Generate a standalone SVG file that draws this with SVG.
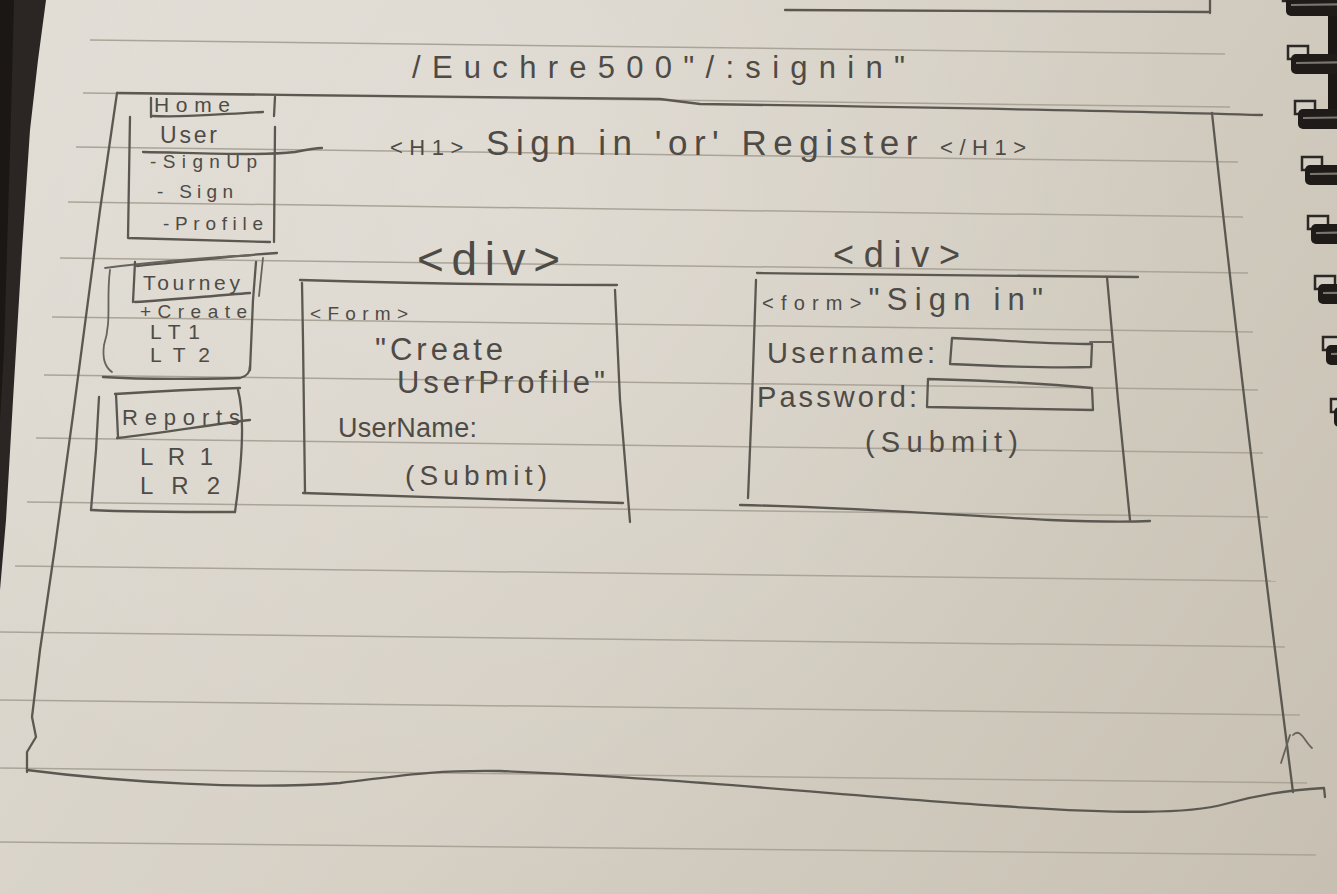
<svg xmlns="http://www.w3.org/2000/svg" width="1337" height="894" viewBox="0 0 1337 894">
  <defs>
    <linearGradient id="paper" x1="0" y1="0" x2="1337" y2="894" gradientUnits="userSpaceOnUse">
      <stop offset="0" stop-color="#e0dcd4"/>
      <stop offset="0.5" stop-color="#d6d0c5"/>
      <stop offset="1" stop-color="#c7c0b2"/>
    </linearGradient>
    <radialGradient id="glow" cx="500" cy="200" r="700" gradientUnits="userSpaceOnUse">
      <stop offset="0" stop-color="#ffffff" stop-opacity="0.18"/>
      <stop offset="1" stop-color="#ffffff" stop-opacity="0"/>
    </radialGradient>
    <g id="ring">
      <rect x="0" y="0" width="20" height="13" fill="#d3cdc3" stroke="#2b2825" stroke-width="2.5"/>
      <rect x="3" y="8" width="72" height="20" rx="5" fill="#1e1b19"/>
      <line x1="8" y1="17" x2="75" y2="16" stroke="#7a756d" stroke-width="2.2"/>
    </g>
  </defs>
  <style>
    .pen { fill: none; stroke: #5b5852; stroke-width: 2.3; stroke-linecap: round; stroke-linejoin: round; }
    .pen2 { fill: none; stroke: #67635d; stroke-width: 1.8; stroke-linecap: round; stroke-linejoin: round; }
    .rule { stroke: #aaa498; stroke-width: 1.5; }
    .t { font-family: "Liberation Sans", Arial, sans-serif; fill: #4e4b46; }
  </style>

  <!-- paper -->
  <rect x="0" y="0" width="1337" height="894" fill="url(#paper)"/>
  <rect x="0" y="0" width="1337" height="894" fill="url(#glow)"/>

  <!-- dark left edge -->
  <polygon points="0,0 46,0 38,60 30,130 22,250 13,400 6,520 0,590" fill="#2b2623"/>
  <polygon points="0,0 14,0 10,150 4,350 0,420" fill="#1a1715"/>

  <!-- ruled lines -->
  <g id="rules" class="rule">
    <line x1="90" y1="40" x2="1225" y2="54"/>
    <line x1="83" y1="93" x2="1230" y2="107"/>
    <line x1="76" y1="147" x2="1238" y2="162"/>
    <line x1="68" y1="202" x2="1243" y2="217"/>
    <line x1="60" y1="258" x2="1248" y2="273"/>
    <line x1="52" y1="317" x2="1253" y2="332"/>
    <line x1="44" y1="375" x2="1258" y2="390"/>
    <line x1="36" y1="438" x2="1263" y2="453"/>
    <line x1="27" y1="502" x2="1268" y2="517"/>
    <line x1="15" y1="566" x2="1276" y2="581"/>
    <line x1="0" y1="632" x2="1285" y2="647"/>
    <line x1="0" y1="700" x2="1300" y2="715"/>
    <line x1="0" y1="768" x2="1307" y2="783"/>
    <line x1="0" y1="842" x2="1316" y2="855"/>
  </g>

  <!-- spiral binding -->
  <g id="spiral">
    <rect x="1328" y="0" width="9" height="112" fill="#1a1715"/>
    <use href="#ring" x="1283" y="-12"/>
    <use href="#ring" x="1288" y="46"/>
    <use href="#ring" x="1295" y="101"/>
    <use href="#ring" x="1302" y="157"/>
    <use href="#ring" x="1308" y="216"/>
    <use href="#ring" x="1315" y="276"/>
    <use href="#ring" x="1323" y="337"/>
    <use href="#ring" x="1331" y="399"/>
  </g>

  <!-- leftover line from previous sketch at top -->
  <g id="top-remnant" class="pen">
    <path d="M785,10 L1210,12"/>
    <path d="M1210,0 L1210,13"/>
  </g>

  <!-- title -->
  <g id="title">
    <text class="t" x="412" y="78" font-size="31" textLength="493" lengthAdjust="spacing">/Euchre500"/:signin"</text>
  </g>

  <!-- page frame -->
  <g id="page-frame">
    <path class="pen" d="M117,93 C300,95 500,97 660,99 L700,104 C900,107 1100,110 1262,115"/>
    <path class="pen" d="M117,93 L100,210 L73,415 L55,547 L40,650 L32,717 L36,737 L27,752 L27,772"/>
    <path class="pen" d="M27,770 C120,782 250,790 340,783 C400,776 430,770 500,771 C650,776 850,796 1000,806 C1120,814 1190,814 1225,804 C1260,794 1290,790 1324,788 L1325,797"/>
    <path class="pen" d="M1212,113 C1232,300 1262,550 1293,792"/>
    <path class="pen2" d="M1281,763 L1290,735"/>
    <path class="pen2" d="M1293,735 C1300,727 1305,742 1312,748"/>
  </g>

  <!-- sidebar: User -->
  <g id="nav-user">
    <path class="pen" d="M151,98 L151,117"/>
    <path class="pen" d="M152,116 C190,118 230,113 263,112"/>
    <path class="pen" d="M275,97 L274,116"/>
    <path class="pen" d="M130,117 L128,238 L270,242"/>
    <path class="pen" d="M275,127 L274,242"/>
    <path class="pen" d="M143,152 C200,153 260,156 295,152 C305,150 315,148 322,148"/>
    <text class="t" x="154" y="112" font-size="21" textLength="76" lengthAdjust="spacing">Home</text>
    <text class="t" x="160" y="143" font-size="23" textLength="57" lengthAdjust="spacing">User</text>
    <text class="t" x="150" y="168" font-size="19" textLength="107" lengthAdjust="spacing">-SignUp</text>
    <text class="t" x="157" y="198" font-size="19" textLength="76" lengthAdjust="spacing">- Sign</text>
    <text class="t" x="163" y="230" font-size="19" textLength="100" lengthAdjust="spacing">-Profile</text>
  </g>

  <!-- sidebar: Tourney -->
  <g id="nav-tourney">
    <path class="pen" d="M137,266 C180,262 230,256 277,253"/>
    <path class="pen2" d="M105,268 C150,262 200,258 253,255"/>
    <path class="pen2" d="M110,270 C106,300 112,320 104,345 C102,360 106,368 112,372"/>
    <path class="pen" d="M135,262 L133,302"/>
    <path class="pen" d="M256,262 L253,300 L250,370"/>
    <path class="pen2" d="M263,258 L259,296"/>
    <path class="pen" d="M135,302 C170,300 210,296 250,293"/>
    <path class="pen" d="M103,377 C150,380 200,379 240,378 C248,376 250,372 250,366"/>
    <text class="t" x="143" y="290" font-size="21" textLength="97" lengthAdjust="spacing">Tourney</text>
    <text class="t" x="140" y="318" font-size="19" textLength="107" lengthAdjust="spacing">+Create</text>
    <text class="t" x="150" y="339" font-size="21" textLength="50" lengthAdjust="spacing">LT1</text>
    <text class="t" x="150" y="362" font-size="21" textLength="60" lengthAdjust="spacing">LT2</text>
  </g>

  <!-- sidebar: Reports -->
  <g id="nav-reports">
    <path class="pen" d="M115,394 C160,391 200,389 240,388"/>
    <path class="pen" d="M116,394 L118,437"/>
    <path class="pen" d="M99,397 L96,450 L91,510"/>
    <path class="pen" d="M117,438 C160,433 210,425 250,420"/>
    <path class="pen" d="M238,390 C246,420 241,470 235,512"/>
    <path class="pen" d="M91,510 C130,512 190,512 235,512"/>
    <text class="t" x="122" y="425" font-size="22" textLength="118" lengthAdjust="spacing">Reports</text>
    <text class="t" x="140" y="465" font-size="24" textLength="73" lengthAdjust="spacing">LR1</text>
    <text class="t" x="140" y="494" font-size="24" textLength="80" lengthAdjust="spacing">LR2</text>
  </g>

  <!-- heading -->
  <g id="heading">
    <text class="t" x="390" y="155" font-size="35" textLength="636" lengthAdjust="spacing"><tspan font-size="22">&lt;H1&gt;</tspan> Sign in 'or' Register <tspan font-size="22">&lt;/H1&gt;</tspan></text>
  </g>

  <!-- left div: create user profile form -->
  <g id="div-create-profile">
    <text class="t" x="417" y="275" font-size="46" textLength="143" lengthAdjust="spacing">&lt;div&gt;</text>
    <path class="pen" d="M300,280 C400,283 520,285 617,285"/>
    <path class="pen" d="M302,283 L303,340 L305,493"/>
    <path class="pen" d="M303,493 C400,496 520,500 623,503"/>
    <path class="pen" d="M615,290 L620,400 L630,522"/>
    <text class="t" x="310" y="320" font-size="19" textLength="98" lengthAdjust="spacing">&lt;Form&gt;</text>
    <text class="t" x="375" y="360" font-size="31" textLength="128" lengthAdjust="spacing">"Create</text>
    <text class="t" x="397" y="393" font-size="31" textLength="208" lengthAdjust="spacing">UserProfile"</text>
    <text class="t" x="338" y="437" font-size="27" textLength="139" lengthAdjust="spacing">UserName:</text>
    <text class="t" x="405" y="485" font-size="28" textLength="142" lengthAdjust="spacing">(Submit)</text>
  </g>

  <!-- right div: sign in form -->
  <g id="div-sign-in">
    <text class="t" x="833" y="267" font-size="36" textLength="127" lengthAdjust="spacing">&lt;div&gt;</text>
    <path class="pen" d="M757,273 C900,275 1050,277 1138,277"/>
    <path class="pen" d="M756,280 L752,400 L748,498"/>
    <path class="pen" d="M740,505 C850,507 950,515 1050,520 C1100,522 1130,522 1150,521"/>
    <path class="pen" d="M1107,277 L1118,400 L1130,520"/>
    <text class="t" x="762" y="310" font-size="31" textLength="281" lengthAdjust="spacing"><tspan font-size="20">&lt;form&gt;</tspan>"Sign in"</text>
    <text class="t" x="767" y="363" font-size="29" textLength="168" lengthAdjust="spacing">Username:</text>
    <path class="pen" d="M952,338 C1000,340 1050,344 1092,344 L1091,367 C1050,368 990,366 950,364 Z"/>
    <path class="pen2" d="M1090,342 L1113,342"/>
    <text class="t" x="757" y="407" font-size="29" textLength="160" lengthAdjust="spacing">Password:</text>
    <path class="pen" d="M928,379 C1000,381 1050,384 1092,388 L1093,410 C1040,409 980,408 927,407 Z"/>
    <text class="t" x="865" y="452" font-size="29" textLength="153" lengthAdjust="spacing">(Submit)</text>
  </g>

  <g id="connectors"></g>
</svg>
